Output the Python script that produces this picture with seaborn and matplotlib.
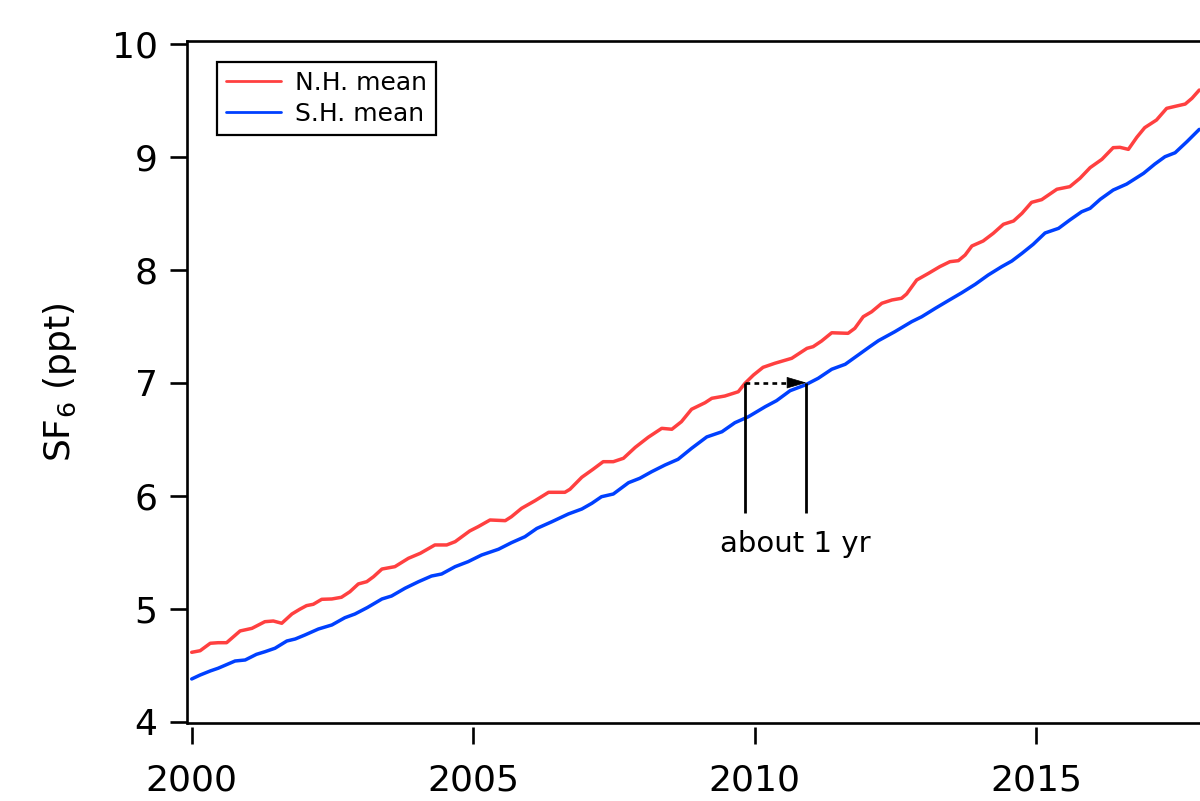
import numpy as np
import pandas as pd
import matplotlib
matplotlib.use("Agg")
import matplotlib.pyplot as plt
import seaborn as sns
from matplotlib.lines import Line2D

# ---------------- data ----------------
nh_year = [2000.00, 2000.15, 2000.33, 2000.47, 2000.62, 2000.71, 2000.86, 2001.07, 2001.30, 2001.45,
           2001.60, 2001.78, 2001.92, 2002.04, 2002.16, 2002.31, 2002.49, 2002.66, 2002.81, 2002.96,
           2003.11, 2003.23, 2003.38, 2003.61, 2003.85, 2004.06, 2004.32, 2004.53, 2004.68, 2004.94,
           2005.09, 2005.30, 2005.57, 2005.68, 2005.86, 2006.10, 2006.34, 2006.63, 2006.72, 2006.93,
           2007.13, 2007.31, 2007.49, 2007.67, 2007.88, 2008.11, 2008.35, 2008.53, 2008.70, 2008.88,
           2009.12, 2009.24, 2009.47, 2009.71, 2009.83, 2009.98, 2010.15, 2010.36, 2010.66, 2010.93,
           2011.04, 2011.19, 2011.37, 2011.66, 2011.78, 2011.93, 2012.08, 2012.26, 2012.44, 2012.61,
           2012.70, 2012.88, 2013.09, 2013.29, 2013.47, 2013.62, 2013.74, 2013.86, 2014.06, 2014.24,
           2014.42, 2014.60, 2014.75, 2014.92, 2015.10, 2015.37, 2015.60, 2015.78, 2015.96, 2016.17,
           2016.37, 2016.49, 2016.64, 2016.79, 2016.93, 2017.14, 2017.32, 2017.50, 2017.65, 2017.77,
           2017.90]
nh_ppt = [4.614, 4.628, 4.694, 4.699, 4.699, 4.738, 4.803, 4.826, 4.885, 4.891,
          4.871, 4.953, 4.995, 5.027, 5.039, 5.083, 5.086, 5.101, 5.150, 5.219,
          5.239, 5.283, 5.351, 5.372, 5.446, 5.490, 5.564, 5.564, 5.593, 5.688,
          5.726, 5.785, 5.779, 5.814, 5.888, 5.956, 6.030, 6.030, 6.057, 6.163,
          6.234, 6.301, 6.301, 6.331, 6.428, 6.517, 6.596, 6.588, 6.655, 6.765,
          6.823, 6.862, 6.882, 6.920, 6.995, 7.068, 7.136, 7.172, 7.216, 7.304,
          7.319, 7.369, 7.442, 7.437, 7.481, 7.584, 7.628, 7.703, 7.732, 7.747,
          7.785, 7.909, 7.968, 8.027, 8.071, 8.080, 8.130, 8.210, 8.254, 8.322,
          8.402, 8.431, 8.499, 8.596, 8.620, 8.712, 8.735, 8.809, 8.903, 8.977,
          9.080, 9.083, 9.065, 9.172, 9.257, 9.325, 9.428, 9.449, 9.466, 9.517,
          9.590]

sh_year = [2000.00, 2000.15, 2000.33, 2000.47, 2000.77, 2000.95, 2001.15, 2001.30, 2001.48, 2001.69,
           2001.84, 2002.01, 2002.25, 2002.49, 2002.72, 2002.90, 2003.12, 2003.38, 2003.55, 2003.79,
           2004.03, 2004.26, 2004.44, 2004.68, 2004.91, 2005.15, 2005.45, 2005.68, 2005.92, 2006.13,
           2006.40, 2006.69, 2006.93, 2007.11, 2007.28, 2007.49, 2007.76, 2007.96, 2008.17, 2008.41,
           2008.64, 2008.88, 2009.15, 2009.42, 2009.65, 2009.89, 2010.19, 2010.39, 2010.63, 2010.90,
           2011.13, 2011.37, 2011.61, 2011.84, 2012.05, 2012.20, 2012.49, 2012.79, 2012.97, 2013.21,
           2013.44, 2013.68, 2013.92, 2014.15, 2014.39, 2014.57, 2014.75, 2014.95, 2015.16, 2015.40,
           2015.60, 2015.81, 2015.96, 2016.14, 2016.37, 2016.61, 2016.91, 2017.11, 2017.29, 2017.47,
           2017.68, 2017.90]
sh_ppt = [4.378, 4.413, 4.449, 4.473, 4.537, 4.546, 4.596, 4.619, 4.650, 4.714,
          4.732, 4.767, 4.820, 4.856, 4.920, 4.953, 5.010, 5.086, 5.112, 5.181,
          5.239, 5.289, 5.307, 5.372, 5.416, 5.475, 5.526, 5.584, 5.637, 5.710,
          5.770, 5.838, 5.882, 5.933, 5.991, 6.015, 6.115, 6.154, 6.212, 6.272,
          6.322, 6.419, 6.520, 6.566, 6.646, 6.699, 6.788, 6.841, 6.929, 6.980,
          7.039, 7.119, 7.163, 7.245, 7.320, 7.372, 7.451, 7.540, 7.584, 7.658,
          7.726, 7.796, 7.871, 7.953, 8.027, 8.077, 8.145, 8.225, 8.325, 8.366,
          8.440, 8.513, 8.543, 8.623, 8.705, 8.758, 8.853, 8.935, 9.000, 9.035,
          9.133, 9.242]

series_labels = ["N.H. mean", "S.H. mean"]
series_colors = ["#FF4040", "#0040FF"]
x_ticks = [2000, 2005, 2010, 2015]
y_ticks = [4, 5, 6, 7, 8, 9, 10]
y_label = "SF$_6$ (ppt)"

lag_start_year = 2009.83
lag_head_base_year = 2010.60
lag_end_year = 2010.92
lag_level = 7.0
lag_bottom = 5.845
lag_text = "about 1 yr"
lag_text_x = 2010.73
lag_text_y = 5.50

# ---------------- style ----------------
sns.set_style("ticks")
plt.rcParams['font.family'] = ['DejaVu Sans']
plt.rcParams['mathtext.fontset'] = 'dejavusans'

df = pd.concat([
    pd.DataFrame({"year": nh_year, "ppt": nh_ppt, "series": series_labels[0]}),
    pd.DataFrame({"year": sh_year, "ppt": sh_ppt, "series": series_labels[1]}),
], ignore_index=True)

fig = plt.figure(figsize=(12, 8.01), dpi=100)
ax = fig.add_axes([187 / 1200, 78.3 / 801, 1015 / 1200, 681.7 / 801])

sns.lineplot(data=df, x="year", y="ppt", hue="series",
             palette=dict(zip(series_labels, series_colors)),
             estimator=None, sort=True, legend=False, ax=ax)
for ln in ax.lines:
    ln.set_linewidth(2.5)
    ln.set_solid_joinstyle("round")
    ln.set_solid_capstyle("round")

ax.set_xlim(1999.9165, 2017.948)
ax.set_ylim(3.991, 10.024)
ax.set_xticks(x_ticks)
ax.set_yticks(y_ticks)
ax.set_xlabel("")
ax.set_ylabel(y_label, fontsize=26, color="black")
ax.yaxis.set_label_coords(-0.106, 0.5)

ax.tick_params(axis="both", direction="out", length=12.2, width=1.9,
               labelsize=26, color="black", labelcolor="black")
ax.tick_params(axis="x", pad=14)
ax.tick_params(axis="y", pad=9)

for s in ["left", "top"]:
    ax.spines[s].set_linewidth(1.9)
    ax.spines[s].set_color("black")
ax.spines["right"].set_visible(False)
ax.spines["bottom"].set_position(("outward", 3))
ax.spines["bottom"].set_visible(False)
ax.axhline(ax.get_ylim()[0], color="black", lw=1.9, clip_on=False, zorder=5)

# annotation: lag between hemispheres
ax.vlines([lag_start_year, lag_end_year], lag_bottom, lag_level, colors="black", lw=2.0, zorder=6)
ax.plot([lag_start_year, lag_head_base_year], [lag_level, lag_level], color="black",
        lw=1.9, ls=(0, (1.8, 1.6)), solid_capstyle="butt", zorder=6)
ax.annotate("", xy=(lag_end_year, lag_level), xytext=(lag_head_base_year, lag_level),
            arrowprops=dict(arrowstyle="-|>,head_length=13,head_width=3.8",
                            mutation_scale=1, lw=0.5, color="black",
                            shrinkA=0, shrinkB=0), zorder=7)
ax.text(lag_text_x, lag_text_y, lag_text, ha="center", va="baseline",
        fontsize=21, color="black")

# legend
handles = [Line2D([], [], color=c, lw=2.0) for c in series_colors]
leg = ax.legend(handles, series_labels, loc="upper left",
                bbox_to_anchor=((217 - 187) / 1015, (722.7 - 62) / 681.7),
                borderaxespad=0, fontsize=18, frameon=True, fancybox=False,
                edgecolor="black", framealpha=1, handlelength=2.2,
                handletextpad=0.56, labelspacing=0.3, borderpad=0.35)
leg.get_frame().set_linewidth(1.6)
for t in leg.get_texts():
    t.set_color("black")

fig.savefig("out.png", dpi=100)
